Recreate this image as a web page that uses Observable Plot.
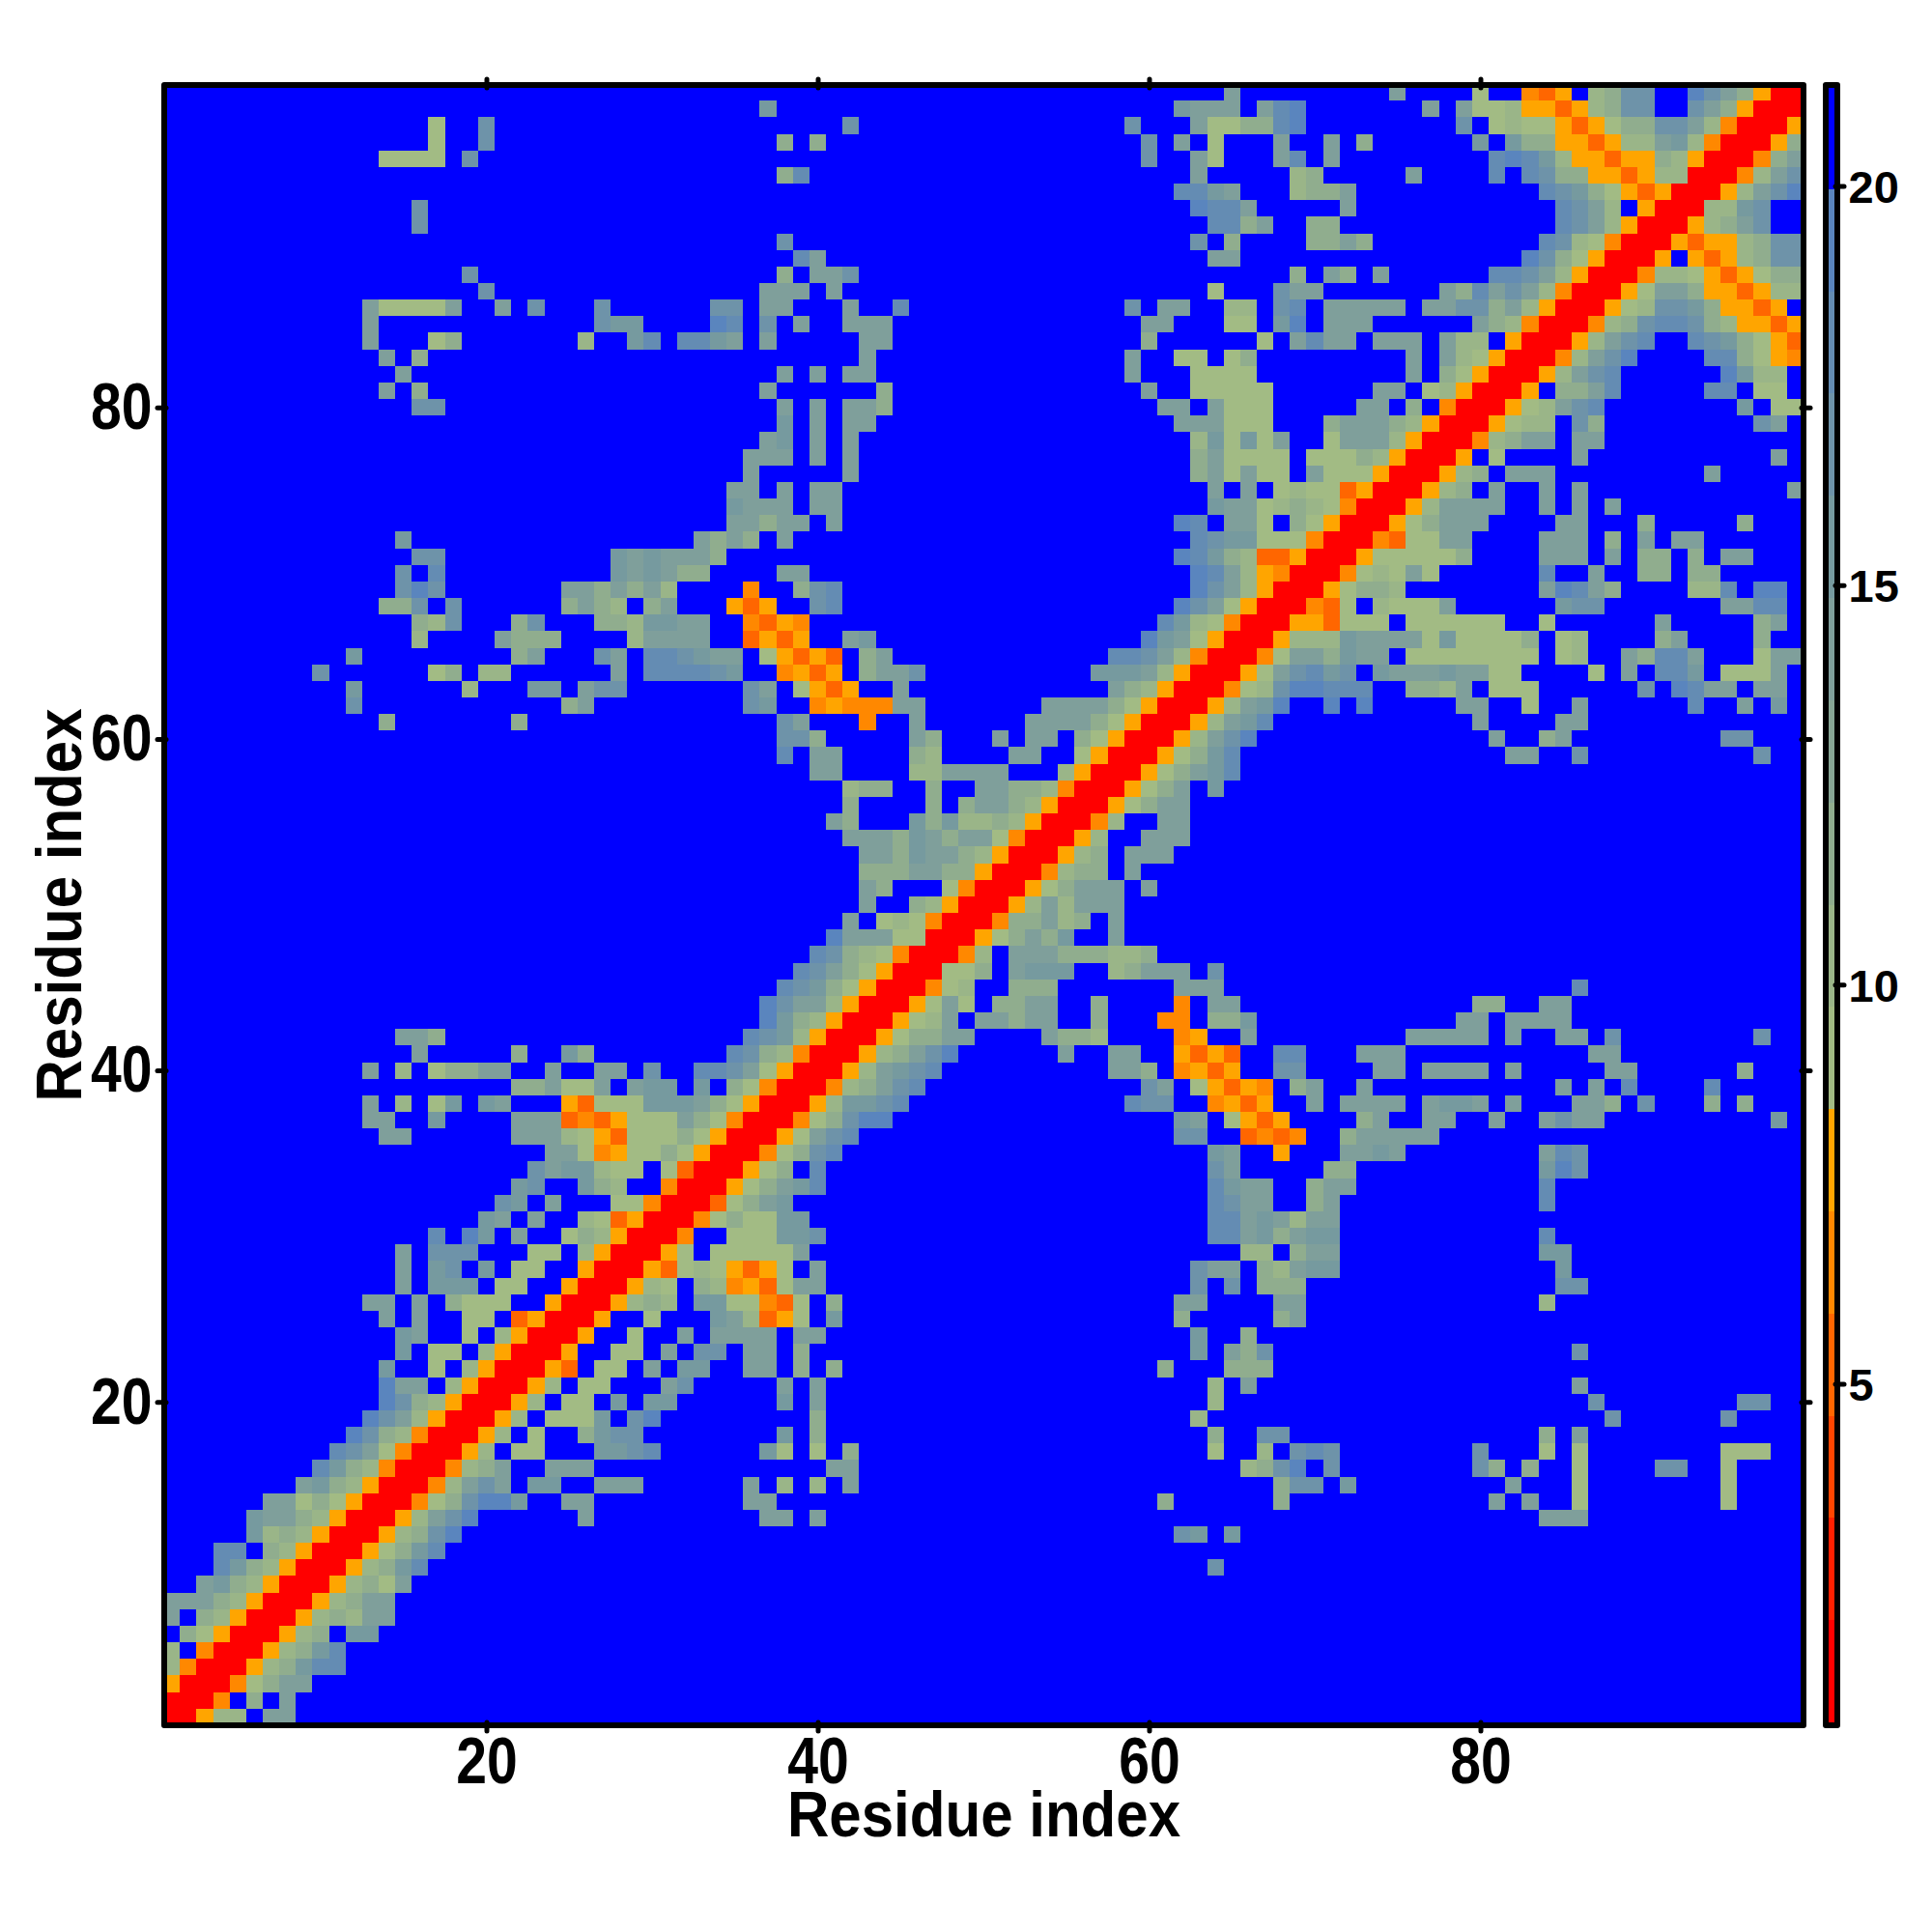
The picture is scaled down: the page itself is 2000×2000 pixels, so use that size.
<!DOCTYPE html>
<html>
<head>
<meta charset="utf-8">
<script src="https://cdn.jsdelivr.net/npm/d3@7"></script>
<script src="https://cdn.jsdelivr.net/npm/@observablehq/plot@0.6"></script>
<style>
html,body{margin:0;padding:0;background:#fff}
#wrap{position:relative;width:2000px;height:2000px}
#wrap svg{position:absolute;left:0;top:0;background:transparent}
</style>
</head>
<body>
<div id="wrap"></div>
<script>
// Residue pairs (x >= y); row n = residue y = n. "col:codes", '.' = blue (far apart).
const contactRows = [
"1:RRfhh.jj",
"2:RRe.i.j",
"3:RRegijj",
"4:RRfhikmm",
"5:RRfhikm",
"6:RRfhi.kk",
"7:RRfhihjj",
"8:RRfhijj",
"9:RRfhigj",
"10:RRfhikm 64:l",
"11:RRfgikm",
"12:RRfhiln 62:lk 65:k",
"13:RRfhjln 26:j 37:jj 40:j 84:jjj",
"14:RRegilnnk 25:jj 36:jj 61:i 68:i 81:j 83:j 86:g 95:g",
"15:RRehjlj 23:kk 27:jjj 36:j 38:h 40:h 42:j 68:ill 72:k 82:j 86:g 95:g",
"16:RRehij 24:jjj 41:jj 66:hiln 71:l 80:li 83:i 86:g 91:ll 95:g",
"17:RRfh 22:gg 27:kklm 37:kg 40:g 42:i 64:g 67:h 69:lml 80:l 84:g 86:g 95:ggg",
"18:RRfh 23:g 26:ikll 38:k 40:i 64:i 67:ll 84:i 86:j",
"19:RRfh 24:gggk 29:ln 40:i 63:h 88:l 95:l",
"20:RRfh 25:gg 28:k 30:kk 38:k 40:j 64:h 87:l 96:ll",
"21:RRfh 26:gg 31:jl 38:j 40:j 64:h 66:j 86:j",
"22:RRfd 27:gg 30:j 32:kk 36:jj 39:i 41:i 61:i 65:iii",
"23:RRf 28:gg 31:j 33:ll 36:jj 39:i 63:k 65:jil 86:l",
"24:RRf 29:g 32:j 34:jjjj 39:jj 63:k 66:i",
"25:RRf 30:g 34:kjhdfg 41:k 62:i 68:ij",
"26:RRfhih 33:kkggedg 41:i 62:jj 68:jj 84:h",
"27:RRfhg 33:ihefdgjj 63:l 65:l 67:iii 85:ll",
"28:RRfdghgfdfg 40:j 63:ljj 67:ihjkk 85:k",
"29:RRfg 34:gggggj 66:hh 69:ijj 84:kk",
"30:RRe 35:gggkkl 64:mmjkijkk 84:m",
"31:RRegiggkk 64:mmjkjhjj",
"32:RRdgijk 64:mljj 70:ij 84:m",
"33:RRfgijkm 64:mkjj 70:ijj 84:m",
"34:RRfgi.m 64:lj 71:ii 84:knl",
"35:RRegilm 64:kj 68:f 72:jjkj 84:jml",
"36:RRfgjlm 62:ll 66:dede 72:ijjjjj",
"37:RRegilnn 62:kj 65:gfdf 73:ij 77:jj 81:j 84:jljj 98:k",
"38:RRfhkklm 59:mll 64:efdf 70:j 72:jjjj 77:jkkj 82:j 86:jji 90:l 94:i 96:i",
"39:RRehijlm 60:lj 63:gfdfe 69:ij 73:j 85:j 87:j 89:m 94:m",
"40:RRfhjklm 58:jji 62:efdf 68:ll 74:jj 77:jjjj 82:j 88:jj 96:i",
"41:RRfhijln 55:j 58:jj 62:fdfd 68:mm 73:jjj 87:jj",
"42:RRfgiijj 54:jiih 62:ef 66:j 76:jjjjj 82:j 85:jj 88:l 97:l",
"43:RRfghj 50:jjijj 57:i 61:ee 64:iik 79:jj 82:jjjj",
"44:RRfgjg 51:iijj 57:i 62:e 64:jj 80:ii 84:jj",
"45:RRegh 52:iii 62:jjj 86:m",
"46:RRggi 52:jkkk 58:hijjj 64:l",
"47:RReh 52:jjjiiihhi",
"48:RRfgijik 58:j",
"49:RReiijhi 58:j",
"50:RRfhjhjjj",
"51:RRfgijjj 60:j",
"52:RRehii 59:j",
"53:RRfhi 59:jjj",
"54:RRfh 60:jjj",
"55:RReh 61:jj",
"56:RRfgijj",
"57:RRfgij 64:k",
"58:RRfgijkm",
"59:RRfgikm 82:jj 86:l 97:l",
"60:RRfhjln 81:j 84:ij 95:ll",
"61:RRfhjkm 80:j 85:jj",
"62:RRfhjkn 71:n 73:n 79:jj 83:g 86:j 93:m 96:j 98:k",
"63:RReghlnnmmm 76:iihj 81:ggg 90:l 92:nm 94:jj 97:jj",
"64:RRfgjlmkl 74:kjjjkjj 81:gg 87:g 89:j 91:mmk 95:ggg 98:j",
"65:RRegjjikjj 76:gggggggg 85:gh 89:ji 91:mmj 97:gjj",
"66:RRfhhhkjjjjgk 79:gggg 83:i 85:gh 91:ij 97:i",
"67:RRffdggg 76:gggggg 84:g 91:j 97:ij",
"68:RRedg 74:hgggj 85:kll 95:jjmm",
"69:RRfgiih 84:jnmji 93:hhm 97:nn",
"70:RReghgjg 84:m 87:j 90:ii 93:ii",
"71:RRfgggggi 84:jjj 88:j 90:ii 93:i 95:jj",
"72:RRedggjj 84:jjj 88:i 90:j 92:jj",
"73:RRfgijjj 85:jj 90:i 96:i",
"74:RRfhjjjj 84:j 86:j 88:j",
"75:RRfhi 81:j 84:j 86:j 99:j",
"76:RRfhi 82:jjj 94:j",
"77:RRf 81:g 86:j 98:j",
"78:RRehijj 86:jj",
"79:RRfghh 86:li 97:lj",
"80:RRfghjlm 96:k 98:gg",
"81:RRf 85:iijm 94:mm 97:gg",
"82:RRfhjlm 95:nkhh",
"83:RRehjln 94:mmigfe",
"84:RRfhjlm 93:mlkigfd",
"85:RRehilmmlihffdf",
"86:RRfghllkiffdf",
"87:RRfgjjiffdfhh",
"88:RRehhgfdfgii",
"89:RRf.fdfhill",
"90:RRfdffhill",
"91:RRfhijl",
"92:RRhhkl",
"93:RRfhjln",
"94:RRehjl",
"95:RReij",
"96:RRfi",
"97:RRf",
"98:RR",
"99:R"
];
// Distance read for each code (mid-value of the colour-bar band)
const codeNames  = ["R","d","e","f","g","h","i","j","k","l","m","n"];
const codeValues = [1.4,5.24,6.52,7.8,9.08,10.36,11.64,14.2,15.48,16.76,18.04,19.32];
const blueValue = 20.6;
// Colour-bar bands
const bandEdges = [0.76,2.04,3.32,4.6,5.88,7.16,8.44,9.72,11,12.28,13.56,14.84,16.12,17.4,18.68,19.96,21.24];
const bandColors = ["#ff0000","#ff2000","#ff4500","#ff6600","#ff8800","#ffa500","#a2bb84","#9ab588","#90ad8e","#86a594","#7f9f9b","#769a9f","#6e93a9","#648cb3","#5a85be","#0000ff"];
const residueTicks = [20,40,60,80];
const barTicks = [5,10,15,20];
const N = 99;

const valueOf = Object.fromEntries(codeNames.map((c,i)=>[c,codeValues[i]]));
const lookup = new Map();
contactRows.forEach((row,i)=>{
  const y = i+1;
  for (const seg of row.split(" ")) {
    const [c,codes] = seg.split(":");
    [...codes].forEach((ch,k)=>{
      if (ch==="." ) return;
      const x = +c+k;
      lookup.set(x+","+y,valueOf[ch]);
      lookup.set(y+","+x,valueOf[ch]);
    });
  }
});
const cells = [];
for (let y=1;y<=N;y++) for (let x=1;x<=N;x++) cells.push({x,y,v:lookup.get(x+","+y) ?? blueValue});
const bands = bandColors.map((c,i)=>({lo:bandEdges[i],hi:bandEdges[i+1],mid:(bandEdges[i]+bandEdges[i+1])/2}));

const font = "'Liberation Sans', Arial, Helvetica, sans-serif";
const colorOpt = {type:"threshold",domain:bandEdges.slice(1,-1),range:bandColors};

const main = Plot.plot({
  width:2000,height:2000,
  marginLeft:172,marginRight:136,marginTop:90,marginBottom:217,
  style:{background:"transparent",fontFamily:font},
  x:{domain:[0.67,99.33],label:null},
  y:{domain:[0.67,99.33],label:null},
  color:colorOpt,
  marks:[
    Plot.rect(cells,{x1:d=>d.x-.5,x2:d=>d.x+.5,y1:d=>d.y-.5,y2:d=>d.y+.5,fill:"v",clip:true,shapeRendering:"crispEdges"}),
    Plot.axisX({anchor:"bottom",ticks:residueTicks,tickSize:9,tickPadding:5,strokeWidth:5,strokeLinecap:"round",fontSize:68,fontWeight:"bold",fontFamily:font,fill:"#000",stroke:"#000",label:null}),
    Plot.axisX({anchor:"top",ticks:residueTicks,tickSize:9,strokeWidth:5,strokeLinecap:"round",stroke:"#000",fill:"none",label:null}),
    Plot.axisY({anchor:"left",ticks:residueTicks,tickSize:9,tickPadding:6,strokeWidth:5,strokeLinecap:"round",fontSize:68,fontWeight:"bold",fontFamily:font,fill:"#000",stroke:"#000",label:null}),
    Plot.axisY({anchor:"right",ticks:residueTicks,tickSize:9,strokeWidth:5,strokeLinecap:"round",stroke:"#000",fill:"none",label:null}),
    Plot.frame({stroke:"#000",strokeWidth:6,inset:-2.5,strokeLinejoin:"round"}),
    Plot.text(["Residue index"],{frameAnchor:"bottom",lineAnchor:"bottom",dy:117,fontSize:66,fontWeight:"bold",fontFamily:font,fill:"#000",className:"title-text"}),
    Plot.text(["Residue index"],{frameAnchor:"left",textAnchor:"middle",lineAnchor:"bottom",dx:-89,rotate:-90,fontSize:66,fontWeight:"bold",fontFamily:font,fill:"#000",className:"title-text"})
  ]
});
const bar = Plot.plot({
  width:2000,height:2000,
  marginLeft:1892,marginRight:101,marginTop:90,marginBottom:217,
  style:{background:"transparent",fontFamily:font},
  x:{domain:[0,1],axis:null},
  y:{domain:[0.76,21.24],label:null},
  color:colorOpt,
  marks:[
    Plot.rect(bands,{x1:()=>0,x2:()=>1,y1:"lo",y2:"hi",fill:"mid",shapeRendering:"crispEdges"}),
    Plot.axisY({anchor:"right",ticks:barTicks,tickSize:9,tickPadding:5,strokeWidth:5,strokeLinecap:"round",fontSize:47,fontWeight:"bold",fontFamily:font,fill:"#000",stroke:"#000",label:null}),
    Plot.frame({stroke:"#000",strokeWidth:6,inset:-2.5,strokeLinejoin:"round"})
  ]
});
// The reference's lettering is narrower than the font: squeeze each text along its own direction.
d3.select(main).selectAll("text").each(function(){
  const t = d3.select(this);
  const isTitle = this.textContent === "Residue index";
  const sx = isTitle ? 0.91 : 0.84;
  t.attr("transform",(t.attr("transform")||"")+` scale(${sx},1)`);
});
d3.select(bar).selectAll("text").each(function(){
  const t = d3.select(this);
  t.attr("transform",(t.attr("transform")||"")+" translate(0,2)");
});
const wrap = document.getElementById("wrap");
wrap.appendChild(main);
wrap.appendChild(bar);
</script>
</body>
</html>
